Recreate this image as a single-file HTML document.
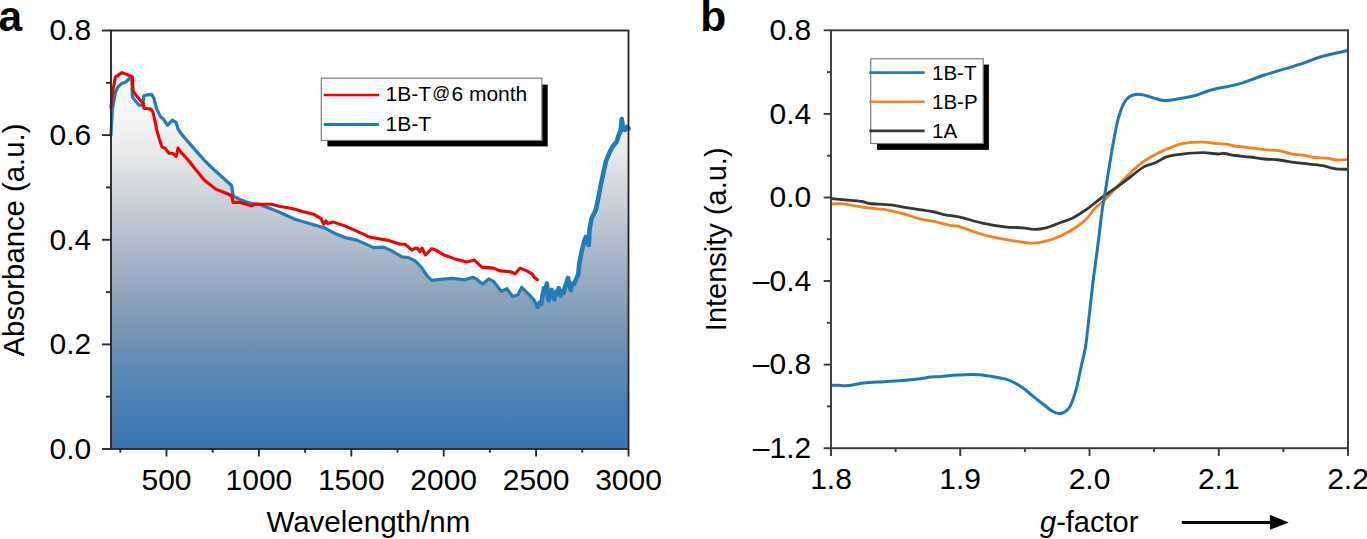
<!DOCTYPE html><html><head><meta charset="utf-8"><style>html,body{margin:0;padding:0;background:#fff;}svg{display:block}svg text{font-family:"Liberation Sans",sans-serif;}</style></head><body>
<svg width="1367" height="539" viewBox="0 0 1367 539" font-family="&quot;Liberation Sans&quot;, sans-serif">
<defs><linearGradient id="ga" x1="0" y1="30.5" x2="0" y2="449" gradientUnits="userSpaceOnUse"><stop offset="0" stop-color="#ffffff"/><stop offset="0.177" stop-color="#f8f9f8"/><stop offset="0.296" stop-color="#e8e8e8"/><stop offset="0.344" stop-color="#dadee2"/><stop offset="0.415" stop-color="#c9d0d8"/><stop offset="0.535" stop-color="#aab7c8"/><stop offset="0.654" stop-color="#87a0b9"/><stop offset="0.773" stop-color="#648eb4"/><stop offset="0.893" stop-color="#4a80b4"/><stop offset="1" stop-color="#3a77b6"/></linearGradient></defs>
<rect width="1367" height="539" fill="#fff"/>
<polygon points="111.0,135.0 112.4,109.0 115.4,92.6 117.6,87.4 121.3,83.7 125.8,82.0 129.5,78.5 131.7,77.0 132.4,97.0 134.7,100.0 139.1,105.2 142.8,105.2 143.9,95.6 145.8,95.2 151.7,94.4 154.0,98.6 156.7,109.1 160.6,116.9 163.2,118.8 167.7,125.3 172.3,120.1 176.2,122.7 178.1,129.2 180.7,133.1 187.9,141.6 196.9,151.9 205.0,161.0 215.7,171.3 226.8,181.3 231.7,185.7 233.0,195.8 240.2,199.6 249.1,202.9 260.2,204.7 271.4,209.1 278.4,211.7 295.0,219.2 311.8,224.2 325.1,228.1 336.8,234.3 345.2,237.6 356.9,240.1 373.6,247.6 383.6,247.1 390.3,250.1 402.0,256.8 408.6,257.6 415.3,261.0 421.7,267.6 426.7,275.4 431.7,280.4 440.1,279.3 451.8,278.4 465.1,279.8 472.6,277.3 476.8,279.3 480.0,282.2 482.8,284.0 488.8,278.9 493.9,281.7 501.3,291.4 506.9,288.7 512.5,296.5 518.0,294.7 521.7,287.3 527.3,292.8 533.6,299.3 537.5,306.7 539.5,303.0 541.2,304.0 542.5,296.0 544.0,288.2 545.5,292.0 546.8,283.6 547.8,295.0 548.6,300.3 550.0,292.0 551.4,290.0 552.8,297.0 554.2,299.3 555.2,293.0 556.1,291.9 557.5,294.0 558.8,288.2 559.8,293.0 560.7,295.6 562.0,291.0 563.5,292.8 565.0,287.0 566.3,283.6 567.2,280.0 568.1,278.0 569.5,286.0 570.9,290.0 571.8,285.0 572.8,283.6 574.0,284.0 575.5,280.8 577.0,277.0 578.3,274.3 579.2,264.0 582.0,250.0 584.3,241.0 586.0,237.0 588.8,245.0 589.6,229.0 591.7,218.3 595.8,210.0 598.3,198.3 600.8,185.0 603.3,173.3 605.8,161.7 609.2,153.3 612.5,146.7 616.7,141.7 618.4,136.0 620.5,131.0 621.8,119.0 623.0,129.0 625.0,130.0 627.0,127.0 628.5,128.6 628.5,449.0 111.0,449.0" fill="url(#ga)"/>
<polyline points="111.0,135.0 112.4,109.0 115.4,92.6 117.6,87.4 121.3,83.7 125.8,82.0 129.5,78.5 131.7,77.0 132.4,97.0 134.7,100.0 139.1,105.2 142.8,105.2 143.9,95.6 145.8,95.2 151.7,94.4 154.0,98.6 156.7,109.1 160.6,116.9 163.2,118.8 167.7,125.3 172.3,120.1 176.2,122.7 178.1,129.2 180.7,133.1 187.9,141.6 196.9,151.9 205.0,161.0 215.7,171.3 226.8,181.3 231.7,185.7 233.0,195.8 240.2,199.6 249.1,202.9 260.2,204.7 271.4,209.1 278.4,211.7 295.0,219.2 311.8,224.2 325.1,228.1 336.8,234.3 345.2,237.6 356.9,240.1 373.6,247.6 383.6,247.1 390.3,250.1 402.0,256.8 408.6,257.6 415.3,261.0 421.7,267.6 426.7,275.4 431.7,280.4 440.1,279.3 451.8,278.4 465.1,279.8 472.6,277.3 476.8,279.3 480.0,282.2 482.8,284.0 488.8,278.9 493.9,281.7 501.3,291.4 506.9,288.7 512.5,296.5 518.0,294.7 521.7,287.3 527.3,292.8 533.6,299.3 537.5,306.7 539.5,303.0 541.2,304.0 542.5,296.0 544.0,288.2 545.5,292.0 546.8,283.6 547.8,295.0 548.6,300.3 550.0,292.0 551.4,290.0 552.8,297.0 554.2,299.3 555.2,293.0 556.1,291.9 557.5,294.0 558.8,288.2 559.8,293.0 560.7,295.6 562.0,291.0 563.5,292.8 565.0,287.0 566.3,283.6 567.2,280.0 568.1,278.0 569.5,286.0 570.9,290.0 571.8,285.0 572.8,283.6 574.0,284.0 575.5,280.8 577.0,277.0 578.3,274.3 579.2,264.0 582.0,250.0 584.3,241.0 586.0,237.0 588.8,245.0 589.6,229.0 591.7,218.3 595.8,210.0 598.3,198.3 600.8,185.0 603.3,173.3 605.8,161.7 609.2,153.3 612.5,146.7 616.7,141.7 618.4,136.0 620.5,131.0 621.8,119.0 623.0,129.0 625.0,130.0 627.0,127.0 628.5,128.6" fill="none" stroke="#207dbb" stroke-width="3.2" stroke-linejoin="round" stroke-linecap="round"/>
<polyline points="537.5,306.7 539.5,303.0 541.2,304.0 542.5,296.0 544.0,288.2 545.5,292.0 546.8,283.6 547.8,295.0 548.6,300.3 550.0,292.0 551.4,290.0 552.8,297.0 554.2,299.3 555.2,293.0 556.1,291.9 557.5,294.0 558.8,288.2 559.8,293.0 560.7,295.6 562.0,291.0 563.5,292.8 565.0,287.0 566.3,283.6 567.2,280.0 568.1,278.0 569.5,286.0 570.9,290.0 571.8,285.0 572.8,283.6 574.0,284.0 575.5,280.8 577.0,277.0 578.3,274.3 579.2,264.0 582.0,250.0 584.3,241.0 586.0,237.0 588.8,245.0 589.6,229.0 591.7,218.3 595.8,210.0 598.3,198.3 600.8,185.0 603.3,173.3 605.8,161.7 609.2,153.3 612.5,146.7 616.7,141.7 618.4,136.0 620.5,131.0 621.8,119.0 623.0,129.0 625.0,130.0 627.0,127.0 628.5,128.6" fill="none" stroke="#207dbb" stroke-width="4.6" stroke-linejoin="round" stroke-linecap="round"/>
<polyline points="111.0,107.0 113.0,90.0 115.4,77.0 117.6,75.6 122.0,72.6 125.8,74.1 131.0,76.3 132.4,77.0 133.2,91.2 136.2,95.6 140.6,100.8 143.3,103.0 143.9,108.2 150.8,109.1 152.8,111.7 154.7,119.5 156.7,129.9 159.3,139.0 161.9,146.8 165.1,148.3 169.0,153.2 172.9,153.5 176.2,156.5 178.1,148.1 180.7,151.9 187.9,159.7 195.0,168.8 204.5,180.2 215.7,189.1 226.8,193.5 231.7,195.8 233.0,202.4 240.2,202.4 251.3,205.8 255.8,204.2 271.4,204.2 280.0,206.5 286.7,207.5 295.0,209.2 303.4,211.7 313.4,214.2 320.9,218.4 323.8,224.2 326.0,220.9 327.6,223.4 333.5,222.1 343.5,225.4 353.5,229.6 370.2,237.3 386.9,240.1 400.3,244.3 405.3,244.3 412.0,250.1 415.3,248.1 417.5,248.4 420.0,251.7 422.0,248.0 425.4,255.0 431.7,248.7 435.0,249.7 443.4,254.7 453.4,258.4 466.8,262.1 474.3,260.1 481.8,267.1 493.5,268.1 500.2,270.9 510.2,271.8 515.2,273.8 520.2,268.1 526.9,270.9 531.9,273.8 534.4,277.6 537.3,279.8" fill="none" stroke="#f20000" stroke-width="3.1" stroke-linejoin="round" stroke-linecap="round"/>
<g stroke="#2b2b2b" stroke-width="1.9" fill="none">
<rect x="111" y="30.5" width="517.5" height="418.5"/>
<line x1="102" y1="449.0" x2="111" y2="449.0"/>
<line x1="102" y1="344.4" x2="111" y2="344.4"/>
<line x1="102" y1="239.8" x2="111" y2="239.8"/>
<line x1="102" y1="135.1" x2="111" y2="135.1"/>
<line x1="102" y1="30.5" x2="111" y2="30.5"/>
<line x1="106" y1="396.7" x2="111" y2="396.7"/>
<line x1="106" y1="292.1" x2="111" y2="292.1"/>
<line x1="106" y1="187.4" x2="111" y2="187.4"/>
<line x1="106" y1="82.8" x2="111" y2="82.8"/>
<line x1="166.5" y1="449" x2="166.5" y2="456.5"/>
<line x1="258.9" y1="449" x2="258.9" y2="456.5"/>
<line x1="351.3" y1="449" x2="351.3" y2="456.5"/>
<line x1="443.7" y1="449" x2="443.7" y2="456.5"/>
<line x1="536.1" y1="449" x2="536.1" y2="456.5"/>
<line x1="628.5" y1="449" x2="628.5" y2="456.5"/>
<line x1="120.3" y1="449" x2="120.3" y2="452.7"/>
<line x1="212.7" y1="449" x2="212.7" y2="452.7"/>
<line x1="305.1" y1="449" x2="305.1" y2="452.7"/>
<line x1="397.5" y1="449" x2="397.5" y2="452.7"/>
<line x1="489.9" y1="449" x2="489.9" y2="452.7"/>
<line x1="582.3" y1="449" x2="582.3" y2="452.7"/>
</g>
<g font-size="30" fill="#000">
<text x="91.2" y="458.8" text-anchor="end">0.0</text>
<text x="91.2" y="354.2" text-anchor="end">0.2</text>
<text x="91.2" y="249.6" text-anchor="end">0.4</text>
<text x="91.2" y="144.9" text-anchor="end">0.6</text>
<text x="91.2" y="40.3" text-anchor="end">0.8</text>
<text x="166.5" y="489.6" text-anchor="middle">500</text>
<text x="258.9" y="489.6" text-anchor="middle">1000</text>
<text x="351.3" y="489.6" text-anchor="middle">1500</text>
<text x="443.7" y="489.6" text-anchor="middle">2000</text>
<text x="536.1" y="489.6" text-anchor="middle">2500</text>
<text x="628.5" y="489.6" text-anchor="middle">3000</text>
<text x="368.4" y="532.2" text-anchor="middle" font-size="29.5">Wavelength/nm</text>
<text transform="translate(24.2,240) rotate(-90)" text-anchor="middle" font-size="29.3">Absorbance (a.u.)</text>
</g>
<rect x="327.4" y="84.6" width="220.3" height="61.8" fill="#000"/>
<rect x="321.3" y="78.2" width="220.6" height="62.2" fill="#fff" stroke="#7c7c7c" stroke-width="1.2"/>
<line x1="323.7" y1="95" x2="379.1" y2="95" stroke="#f20000" stroke-width="2.6"/>
<line x1="323.7" y1="124.4" x2="379.1" y2="124.4" stroke="#207dbb" stroke-width="3"/>
<g font-size="21" fill="#000"><text x="385.6" y="101.4">1B-T<tspan x="432.3" dy="-2.5" font-size="17.7">@</tspan><tspan x="451.4" dy="2.5">6 month</tspan></text><text x="385.6" y="130.6">1B-T</text></g>
<g font-size="42.5" font-weight="bold" fill="#000"><text x="-1.6" y="30.6">a</text><text x="700.3" y="30.6">b</text></g>
<path d="M831.0,204.0 C833.0,204.0 837.1,203.2 842.8,203.8 C848.5,204.4 857.7,206.4 865.1,207.5 C872.5,208.6 880.7,208.9 887.4,210.1 C894.1,211.2 899.8,212.9 905.2,214.4 C910.6,215.9 915.0,217.7 920.0,218.9 C925.0,220.1 929.9,220.5 934.9,221.6 C939.9,222.7 945.5,224.4 949.7,225.3 C953.9,226.2 955.8,225.7 960.0,226.8 C964.2,227.9 969.8,230.4 974.8,232.0 C979.8,233.6 983.5,235.0 989.7,236.4 C995.9,237.8 1005.1,239.5 1012.0,240.6 C1018.9,241.7 1025.6,243.0 1031.3,243.1 C1037.0,243.2 1041.1,242.4 1046.1,241.2 C1051.0,240.0 1056.0,238.0 1061.0,235.7 C1066.0,233.4 1071.6,230.2 1075.8,227.5 C1080.0,224.8 1083.1,222.4 1086.2,219.3 C1089.3,216.2 1091.4,211.9 1094.5,208.7 C1097.6,205.4 1101.1,203.4 1104.8,199.8 C1108.5,196.2 1113.0,191.2 1116.7,187.2 C1120.4,183.2 1122.9,180.1 1127.1,176.0 C1131.3,171.9 1137.0,166.4 1142.0,162.7 C1147.0,159.0 1151.8,156.4 1156.8,153.8 C1161.8,151.2 1167.2,148.8 1171.7,147.1 C1176.2,145.4 1178.3,144.2 1183.5,143.4 C1188.7,142.6 1197.1,142.1 1202.8,142.2 C1208.5,142.2 1213.8,143.4 1217.7,143.7 C1221.6,144.0 1223.1,143.7 1225.9,144.1 C1228.8,144.5 1230.8,145.4 1234.8,146.0 C1238.8,146.6 1244.8,147.2 1249.7,147.8 C1254.7,148.4 1259.5,149.1 1264.5,149.6 C1269.5,150.1 1274.9,150.1 1279.4,150.8 C1283.9,151.5 1287.3,153.1 1291.3,153.8 C1295.2,154.5 1299.1,154.6 1303.1,155.2 C1307.0,155.8 1311.0,157.0 1315.0,157.5 C1319.0,158.0 1323.2,157.8 1326.9,158.2 C1330.6,158.6 1333.7,159.8 1337.3,160.0 C1340.9,160.2 1346.6,159.5 1348.4,159.4" fill="none" stroke="#f7801f" stroke-width="2.8" stroke-linejoin="round"/>
<path d="M831.0,198.6 C833.0,198.8 837.6,199.1 842.8,199.6 C848.0,200.1 857.6,200.8 862.1,201.5 C866.6,202.2 864.9,202.9 869.6,203.5 C874.3,204.1 883.7,204.1 890.4,204.9 C897.1,205.7 902.8,207.1 909.7,208.2 C916.6,209.3 926.0,210.4 931.9,211.5 C937.8,212.6 940.6,214.0 945.3,214.9 C950.0,215.8 953.8,215.7 960.0,217.1 C966.2,218.5 974.9,221.5 982.3,223.1 C989.7,224.7 997.8,226.0 1004.5,226.8 C1011.2,227.6 1017.4,227.4 1022.4,227.8 C1027.3,228.2 1030.2,229.3 1034.2,229.3 C1038.2,229.3 1041.6,229.0 1046.1,227.8 C1050.6,226.6 1056.5,224.0 1061.0,222.3 C1065.5,220.7 1068.6,220.0 1072.8,217.9 C1077.0,215.8 1081.3,213.1 1086.2,209.7 C1091.1,206.3 1096.8,201.2 1101.9,197.5 C1107.0,193.8 1111.8,190.8 1116.7,187.2 C1121.7,183.6 1127.1,179.3 1131.6,176.0 C1136.0,172.7 1139.5,169.3 1143.4,167.1 C1147.4,164.9 1151.3,164.4 1155.3,162.7 C1159.3,161.0 1162.8,158.1 1167.2,156.7 C1171.7,155.3 1176.1,154.9 1182.0,154.2 C1187.9,153.5 1196.8,152.7 1202.8,152.7 C1208.8,152.7 1214.1,153.9 1217.7,154.0 C1221.3,154.1 1221.7,153.2 1224.5,153.5 C1227.3,153.8 1230.6,154.9 1234.8,155.5 C1239.0,156.1 1244.8,156.4 1249.7,157.0 C1254.7,157.6 1259.5,158.5 1264.5,159.0 C1269.5,159.5 1274.5,159.4 1279.4,160.0 C1284.4,160.6 1289.2,161.7 1294.2,162.4 C1299.2,163.1 1304.1,163.5 1309.1,164.1 C1314.0,164.7 1319.7,165.2 1323.9,165.9 C1328.1,166.7 1330.2,168.0 1334.3,168.6 C1338.4,169.2 1346.1,169.2 1348.4,169.3" fill="none" stroke="#363636" stroke-width="2.8" stroke-linejoin="round"/>
<path d="M831.0,385.3 C832.2,385.3 835.3,385.2 838.2,385.3 C841.1,385.4 844.2,386.0 848.5,385.6 C852.8,385.2 857.8,383.6 863.8,383.0 C869.8,382.4 878.3,382.1 884.3,381.7 C890.3,381.3 893.7,381.2 899.7,380.7 C905.7,380.2 915.1,379.3 920.2,378.7 C925.3,378.1 927.0,377.5 930.4,377.1 C933.8,376.8 937.3,376.9 940.7,376.6 C944.1,376.3 947.4,375.7 950.9,375.4 C954.4,375.1 958.5,375.1 962.0,374.9 C965.5,374.7 969.0,374.4 972.0,374.4 C975.0,374.4 977.3,374.4 980.0,374.7 C982.7,374.9 984.8,375.4 988.0,375.9 C991.2,376.4 995.3,377.0 999.0,377.8 C1002.7,378.6 1006.4,379.1 1010.1,380.6 C1013.8,382.1 1017.5,384.2 1021.2,386.7 C1024.9,389.2 1028.6,392.6 1032.3,395.6 C1036.0,398.6 1040.2,401.9 1043.5,404.5 C1046.8,407.1 1049.7,409.7 1052.4,411.2 C1055.1,412.7 1057.4,413.6 1059.6,413.6 C1061.8,413.6 1064.0,412.4 1065.7,411.2 C1067.4,410.0 1068.7,408.7 1070.0,406.5 C1071.3,404.3 1072.4,401.1 1073.5,398.0 C1074.6,394.9 1075.6,391.5 1076.5,388.0 C1077.4,384.5 1078.2,380.8 1079.0,377.0 C1079.8,373.2 1080.7,368.5 1081.5,365.0 C1082.3,361.5 1082.9,360.1 1083.7,355.9 C1084.5,351.7 1085.1,351.3 1086.5,340.0 C1087.9,328.7 1090.5,303.3 1092.3,288.0 C1094.1,272.7 1095.8,261.0 1097.5,248.0 C1099.2,235.0 1100.8,220.2 1102.2,209.9 C1103.7,199.6 1104.8,194.4 1106.2,186.0 C1107.6,177.6 1109.1,167.5 1110.4,159.5 C1111.7,151.5 1113.0,144.1 1114.2,137.8 C1115.4,131.5 1116.5,125.6 1117.5,121.5 C1118.5,117.4 1119.0,115.9 1120.0,113.0 C1121.0,110.1 1122.0,106.7 1123.5,104.0 C1125.0,101.3 1126.7,98.6 1129.0,97.0 C1131.3,95.4 1134.4,94.5 1137.2,94.2 C1140.0,94.0 1142.6,94.8 1145.6,95.5 C1148.6,96.2 1151.8,97.6 1155.2,98.4 C1158.6,99.2 1159.8,100.8 1166.0,100.4 C1172.2,100.1 1184.7,98.0 1192.2,96.3 C1199.7,94.6 1203.4,92.1 1211.2,90.0 C1219.0,87.9 1230.0,86.4 1239.0,83.9 C1248.0,81.4 1255.0,78.1 1265.3,74.8 C1275.5,71.5 1291.2,67.1 1300.5,64.1 C1309.8,61.1 1313.0,59.1 1320.9,56.8 C1328.8,54.5 1343.5,51.5 1348.0,50.5" fill="none" stroke="#1d78ba" stroke-width="3" stroke-linejoin="round"/>
<g stroke="#3a3a3a" stroke-width="1.9" fill="none">
<rect x="831" y="30.3" width="517" height="417.9"/>
<line x1="823.7" y1="448.2" x2="831" y2="448.2"/>
<line x1="823.7" y1="364.6" x2="831" y2="364.6"/>
<line x1="823.7" y1="281.0" x2="831" y2="281.0"/>
<line x1="823.7" y1="197.5" x2="831" y2="197.5"/>
<line x1="823.7" y1="113.9" x2="831" y2="113.9"/>
<line x1="823.7" y1="30.3" x2="831" y2="30.3"/>
<line x1="827" y1="406.4" x2="831" y2="406.4"/>
<line x1="827" y1="322.8" x2="831" y2="322.8"/>
<line x1="827" y1="239.2" x2="831" y2="239.2"/>
<line x1="827" y1="155.7" x2="831" y2="155.7"/>
<line x1="827" y1="72.1" x2="831" y2="72.1"/>
<line x1="831.0" y1="448.2" x2="831.0" y2="456"/>
<line x1="960.2" y1="448.2" x2="960.2" y2="456"/>
<line x1="1089.5" y1="448.2" x2="1089.5" y2="456"/>
<line x1="1218.8" y1="448.2" x2="1218.8" y2="456"/>
<line x1="1348.0" y1="448.2" x2="1348.0" y2="456"/>
<line x1="895.6" y1="448.2" x2="895.6" y2="452"/>
<line x1="1024.9" y1="448.2" x2="1024.9" y2="452"/>
<line x1="1154.1" y1="448.2" x2="1154.1" y2="452"/>
<line x1="1283.4" y1="448.2" x2="1283.4" y2="452"/>
</g>
<g font-size="30" fill="#000">
<text x="811.2" y="40.1" text-anchor="end">0.8</text>
<text x="811.2" y="123.7" text-anchor="end">0.4</text>
<text x="811.2" y="207.3" text-anchor="end">0.0</text>
<text x="811.2" y="290.8" text-anchor="end">–0.4</text>
<text x="811.2" y="374.4" text-anchor="end">–0.8</text>
<text x="811.2" y="458.0" text-anchor="end">–1.2</text>
<text x="831.0" y="489.4" text-anchor="middle">1.8</text>
<text x="960.2" y="489.4" text-anchor="middle">1.9</text>
<text x="1089.5" y="489.4" text-anchor="middle">2.0</text>
<text x="1218.8" y="489.4" text-anchor="middle">2.1</text>
<text x="1348.0" y="489.4" text-anchor="middle">2.2</text>
<text x="1040" y="531.7" font-size="29"><tspan font-style="italic">g</tspan>-factor</text>
<text transform="translate(726,239.3) rotate(-90)" text-anchor="middle" font-size="29">Intensity (a.u.)</text>
</g>
<line x1="1181.8" y1="522.5" x2="1272" y2="522.5" stroke="#000" stroke-width="3"/>
<polygon points="1269.9,514.7 1288.7,522.5 1269.9,529.7" fill="#000"/>
<rect x="877.1" y="64.6" width="111.8" height="85.3" fill="#000"/>
<rect x="870.7" y="58.8" width="112.5" height="84.7" fill="#fff" stroke="#7c7c7c" stroke-width="1.2"/>
<line x1="869.3" y1="72.7" x2="924.6" y2="72.7" stroke="#1f7bbd" stroke-width="2.8"/>
<line x1="869.3" y1="101.8" x2="924.6" y2="101.8" stroke="#f7801f" stroke-width="2.6"/>
<line x1="869.3" y1="130.9" x2="924.6" y2="130.9" stroke="#363636" stroke-width="2.8"/>
<g font-size="20.5" fill="#000"><text x="932" y="80.3">1B-T</text><text x="932" y="109.1">1B-P</text><text x="932" y="137.9">1A</text></g>
</svg></body></html>
